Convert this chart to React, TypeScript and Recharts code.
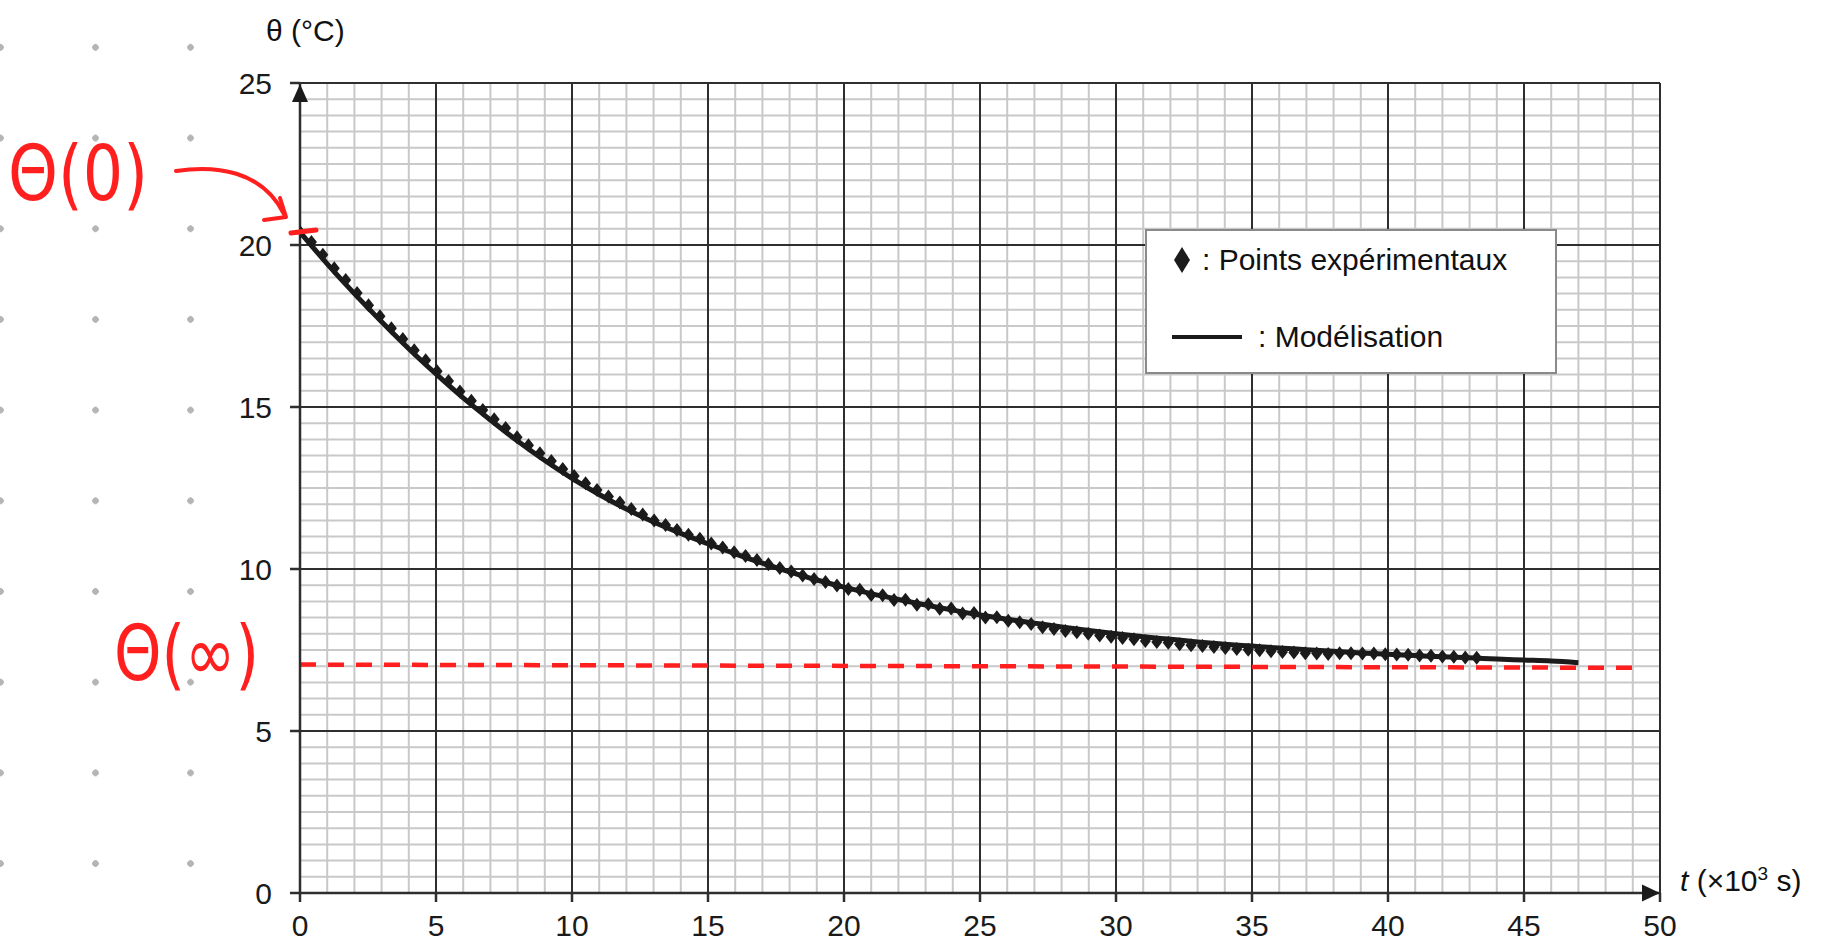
import React from "react";
import {
  ComposedChart,
  Line,
  Scatter,
  XAxis,
  YAxis,
  CartesianGrid,
  ReferenceDot,
  Legend,
} from "recharts";

// temps de mesure (s), un point toutes les 420 s
const timesS = [
  0, 420, 840, 1260, 1680, 2100, 2520, 2940, 3360, 3780, 4200, 4620, 5040,
  5460, 5880, 6300, 6720, 7140, 7560, 7980, 8400, 8820, 9240, 9660, 10080,
  10500, 10920, 11340, 11760, 12180, 12600, 13020, 13440, 13860, 14280, 14700,
  15120, 15540, 15960, 16380, 16800, 17220, 17640, 18060, 18480, 18900, 19320,
  19740, 20160, 20580, 21000, 21420, 21840, 22260, 22680, 23100, 23520, 23940,
  24360, 24780, 25200, 25620, 26040, 26460, 26880, 27300, 27720, 28140, 28560,
  28980, 29400, 29820, 30240, 30660, 31080, 31500, 31920, 32340, 32760, 33180,
  33600, 34020, 34440, 34860, 35280, 35700, 36120, 36540, 36960, 37380, 37800,
  38220, 38640, 39060, 39480, 39900, 40320, 40740, 41160, 41580, 42000, 42420,
  42840, 43260,
];

// températures mesurées (°C)
const measuredTheta = [
  20.4, 20.09, 19.7, 19.28, 18.92, 18.52, 18.14, 17.8, 17.43, 17.1,
  16.75, 16.44, 16.1, 15.8, 15.48, 15.19, 14.91, 14.62, 14.35, 14.07,
  13.82, 13.57, 13.33, 13.09, 12.87, 12.65, 12.44, 12.24, 12.05, 11.85,
  11.68, 11.5, 11.36, 11.2, 11.06, 10.93, 10.79, 10.66, 10.52, 10.4,
  10.28, 10.15, 10.03, 9.92, 9.8, 9.69, 9.6, 9.49, 9.38, 9.36,
  9.2, 9.19, 9.04, 9.05, 8.9, 8.91, 8.77, 8.78, 8.63, 8.64,
  8.5, 8.51, 8.4, 8.36, 8.3, 8.2, 8.15, 8.09, 8.05, 8.0,
  7.95, 7.91, 7.87, 7.83, 7.78, 7.75, 7.72, 7.68, 7.65, 7.62,
  7.59, 7.56, 7.53, 7.51, 7.49, 7.46, 7.44, 7.42, 7.4, 7.39,
  7.38, 7.4, 7.4, 7.39, 7.39, 7.37, 7.36, 7.35, 7.33, 7.32,
  7.3, 7.29, 7.27, 7.26,
];

// modélisation (t en 10^3 s)
const modelT = [
  0, 1, 2, 3, 4, 5, 6, 7, 8, 9, 10, 11, 12, 13, 14, 15, 16, 17, 18, 19, 20,
  21, 22, 23, 24, 25, 26, 27, 28, 29, 30, 31, 32, 33, 34, 35, 36, 37, 38, 39,
  40, 41, 42, 43, 44, 45, 46, 47,
];
const modelTheta = [
  20.4, 19.42, 18.5, 17.63, 16.8, 16.02, 15.28, 14.6, 13.95, 13.35, 12.8,
  12.3, 11.85, 11.45, 11.1, 10.78, 10.47, 10.18, 9.91, 9.66, 9.44, 9.24,
  9.06, 8.89, 8.73, 8.58, 8.45, 8.33, 8.21, 8.1, 8.0, 7.91, 7.83, 7.75, 7.68,
  7.62, 7.56, 7.51, 7.46, 7.41, 7.37, 7.33, 7.29, 7.26, 7.22, 7.19, 7.16,
  7.11,
];

// trait rouge tracé à la main (asymptote)
const asymptoteT = [0, 49.2];
const asymptoteTheta = [7.05, 6.95];

const xTicks = [0, 5, 10, 15, 20, 25, 30, 35, 40, 45, 50];
const yTicks = [0, 5, 10, 15, 20, 25];
const xMinor = Array.from({ length: 51 }, (_, i) => i);
const yMinor = Array.from({ length: 51 }, (_, i) => i / 2);

const measured = timesS.map((s, i) => ({ t: s / 1000, theta: measuredTheta[i] }));
const model = modelT.map((t, i) => ({ t, theta: modelTheta[i] }));
const asymptote = asymptoteT.map((t, i) => ({ t, theta: asymptoteTheta[i] }));

const FONT = "'Liberation Sans', Arial, Helvetica, sans-serif";
const INK = "#1b1b1b";
const RED = "#ff1f1f";

const Diamond = (props: any) => {
  const { cx, cy } = props;
  if (cx == null || cy == null) return null;
  return (
    <path
      d={`M${cx},${cy - 7} L${cx + 5.5},${cy} L${cx},${cy + 7} L${cx - 5.5},${cy} Z`}
      fill={INK}
    />
  );
};

const UpArrow = (props: any) => {
  const { cx, cy } = props;
  return <path d={`M${cx},${cy + 1} L${cx + 8},${cy + 19} L${cx - 8},${cy + 19} Z`} fill={INK} />;
};

const RightArrow = (props: any) => {
  const { cx, cy } = props;
  return <path d={`M${cx},${cy} L${cx - 18},${cy - 8.5} L${cx - 18},${cy + 8.5} Z`} fill={INK} />;
};

const LegendBox = () => (
  <div
    style={{
      width: 412,
      height: 145,
      boxSizing: "border-box",
      border: "2px solid #8a8a8a",
      background: "#fff",
      fontFamily: FONT,
      fontSize: 30,
      color: "#111",
      position: "relative",
    }}
  >
    <div style={{ position: "absolute", left: 25, top: 12, display: "flex", alignItems: "center" }}>
      <svg width={20} height={28} style={{ marginRight: 10 }}>
        <path d="M10,1 L18,14 L10,27 L2,14 Z" fill={INK} />
      </svg>
      <span>: Points expérimentaux</span>
    </div>
    <div style={{ position: "absolute", left: 25, top: 89, display: "flex", alignItems: "center" }}>
      <div style={{ width: 70, height: 4, background: INK, marginRight: 16 }} />
      <span>: Modélisation</span>
    </div>
  </div>
);

export default function App() {
  return (
    <div
      style={{
        position: "absolute",
        left: 0,
        top: 0,
        width: 1825,
        height: 942,
        background: "#fff",
        overflow: "hidden",
        fontFamily: FONT,
      }}
    >
      {/* points du cahier */}
      <div
        style={{
          position: "absolute",
          left: -47.5,
          top: 1.6,
          width: 290,
          height: 940,
          backgroundImage: "radial-gradient(circle, #b5b5b5 3px, transparent 3.6px)",
          backgroundSize: "95px 90.7px",
        }}
      />
      <div style={{ position: "absolute", left: 0, top: 0 }}>
        <ComposedChart
          width={1825}
          height={942}
          margin={{ top: 83, right: 165, bottom: 4, left: 240 }}
        >
          <CartesianGrid
            verticalValues={xMinor}
            horizontalValues={yMinor}
            stroke="#c9c9c9"
            strokeWidth={2}
            fill="#fff"
          />
          <CartesianGrid
            verticalValues={xTicks}
            horizontalValues={yTicks}
            stroke="#2e2e2e"
            strokeWidth={2}
          />
          <XAxis
            type="number"
            dataKey="t"
            domain={[0, 50]}
            ticks={xTicks}
            interval={0}
            allowDataOverflow
            height={45}
            tickSize={9}
            tickMargin={13}
            axisLine={{ stroke: "#2e2e2e", strokeWidth: 2.5 }}
            tickLine={{ stroke: "#2e2e2e", strokeWidth: 2.5 }}
            tick={{ fill: "#1a1a1a", fontSize: 30, fontFamily: FONT }}
          />
          <YAxis
            type="number"
            dataKey="theta"
            domain={[0, 25]}
            ticks={yTicks}
            interval={0}
            allowDataOverflow
            width={60}
            tickSize={10}
            tickMargin={18}
            axisLine={{ stroke: "#2e2e2e", strokeWidth: 2.5 }}
            tickLine={{ stroke: "#2e2e2e", strokeWidth: 2.5 }}
            tick={{ fill: "#1a1a1a", fontSize: 30, fontFamily: FONT }}
          />
          <Line
            data={asymptote}
            dataKey="theta"
            type="linear"
            stroke={RED}
            strokeWidth={4.5}
            strokeDasharray="16 12"
            dot={false}
            activeDot={false}
            isAnimationActive={false}
            legendType="none"
          />
          <Line
            data={model}
            dataKey="theta"
            type="monotone"
            stroke={INK}
            strokeWidth={5}
            dot={false}
            activeDot={false}
            isAnimationActive={false}
          />
          <Scatter
            data={measured}
            dataKey="theta"
            shape={Diamond}
            isAnimationActive={false}
          />
          <ReferenceDot x={0} y={25} r={0} shape={UpArrow} />
          <ReferenceDot x={50} y={0} r={0} shape={RightArrow} />
          <Legend
            layout="horizontal"
            verticalAlign="middle"
            align="center"
            content={LegendBox}
            wrapperStyle={{ position: "absolute", left: 1145, top: 229, width: 412, height: 145 }}
          />
        </ComposedChart>
      </div>

      {/* titres des axes */}
      <div style={{ position: "absolute", left: 266, top: 14, fontSize: 30, color: "#111" }}>
        θ (°C)
      </div>
      <div style={{ position: "absolute", left: 1680, top: 864, fontSize: 30, color: "#111", whiteSpace: "nowrap" }}>
        <i>t</i> (×10<sup style={{ fontSize: 19, verticalAlign: "11px", lineHeight: 0 }}>3</sup> s)
      </div>

      {/* annotations manuscrites */}
      <svg
        width={1825}
        height={942}
        style={{ position: "absolute", left: 0, top: 0, pointerEvents: "none" }}
      >
        <text x={8} y={200} fill={RED} fontSize={76} fontFamily="'DejaVu Sans', sans-serif" textLength={140} lengthAdjust="spacingAndGlyphs">
          Θ(0)
        </text>
        <path d="M176,171 C215,165 262,170 284,214" stroke={RED} strokeWidth={4} fill="none" strokeLinecap="round" />
        <path d="M280,198 L286,217 L264,220" stroke={RED} strokeWidth={4} fill="none" strokeLinecap="round" strokeLinejoin="round" />
        <path d="M291,233 L316,230" stroke={RED} strokeWidth={5} strokeLinecap="round" />
        <text x={114} y={680} fill={RED} fontSize={76} fontFamily="'DejaVu Sans', sans-serif" textLength={145} lengthAdjust="spacingAndGlyphs">
          Θ(∞)
        </text>
      </svg>
    </div>
  );
}
